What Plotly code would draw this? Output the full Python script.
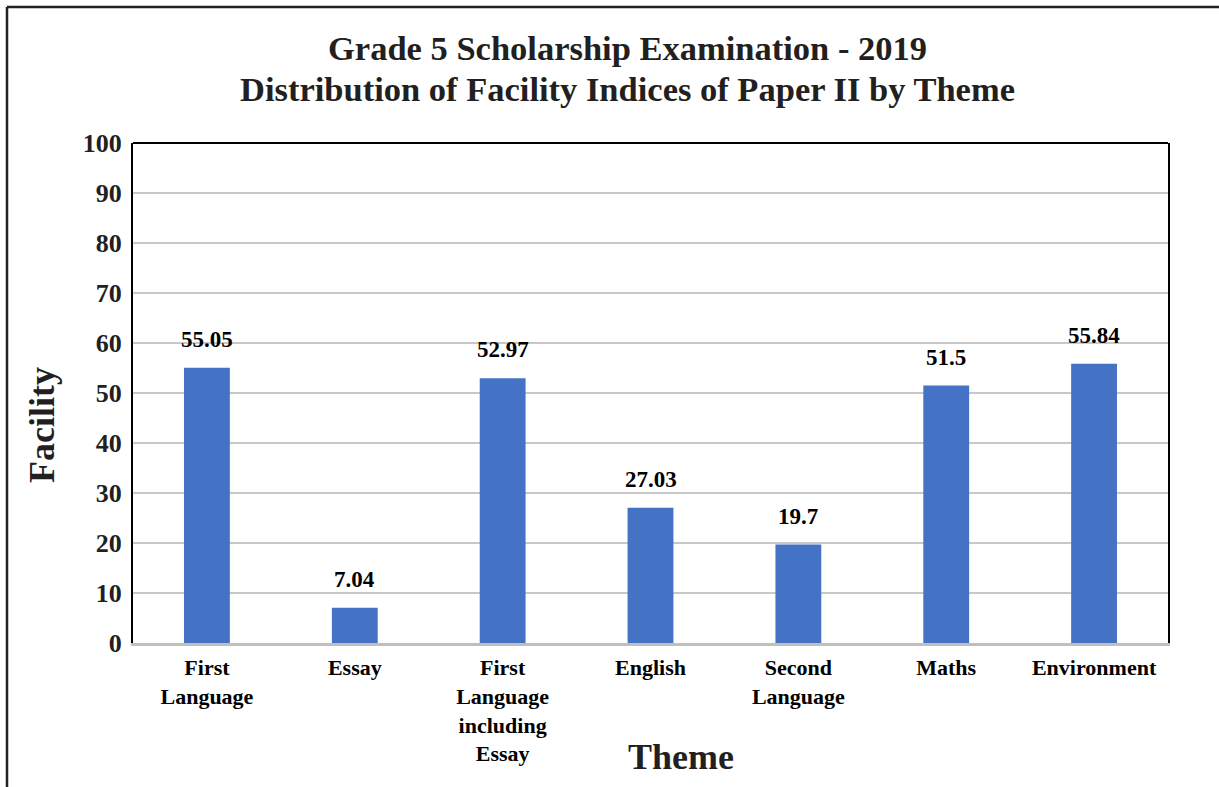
import plotly.graph_objects as go

themes = ["First<br>Language", "Essay", "First<br>Language<br>including<br>Essay",
          "English", "Second<br>Language", "Maths", "Environment"]
facility = [55.05, 7.04, 52.97, 27.03, 19.7, 51.5, 55.84]
value_labels = ["55.05", "7.04", "52.97", "27.03", "19.7", "51.5", "55.84"]
y_ticks = [0, 10, 20, 30, 40, 50, 60, 70, 80, 90, 100]

W, H = 1219, 787
L, R, T, B = 133, 51, 143, 144
pw, ph = W - L - R, H - T - B

def px(x):
    return (x - L) / pw

def py(y):
    return (H - B - y) / ph

SERIF = "Liberation Serif, Times New Roman, serif"
INK = "#231f20"

fig = go.Figure()
fig.add_trace(go.Bar(
    x=list(range(len(themes))), y=facility, width=0.31,
    marker=dict(color="#4472C4", line=dict(width=0)),
    hoverinfo="skip",
))

annotations = []
for i, (v, lab) in enumerate(zip(facility, value_labels)):
    annotations.append(dict(
        x=i, y=v, xref="x", yref="y", text=f"<b>{lab}</b>", showarrow=False,
        yanchor="bottom", yshift=14, font=dict(family=SERIF, size=23, color="black"),
    ))

annotations += [
    dict(x=px(627), y=py(48), xref="paper", yref="paper", showarrow=False,
         text="<b>Grade 5 Scholarship Examination - 2019</b>",
         font=dict(family=SERIF, size=34.5, color=INK), xanchor="center", yanchor="middle"),
    dict(x=px(627), y=py(89), xref="paper", yref="paper", showarrow=False,
         text="<b>Distribution of Facility Indices of Paper II by Theme</b>",
         font=dict(family=SERIF, size=34.5, color=INK), xanchor="center", yanchor="middle"),
    dict(x=px(42), y=py(425), xref="paper", yref="paper", showarrow=False,
         text="<b>Facility</b>", textangle=-90,
         font=dict(family=SERIF, size=36, color=INK), xanchor="center", yanchor="middle"),
    dict(x=px(681), y=py(757), xref="paper", yref="paper", showarrow=False,
         text="<b>Theme</b>",
         font=dict(family=SERIF, size=36, color=INK), xanchor="center", yanchor="middle"),
]

shapes = [
    # outer frame (top and left edges)
    dict(type="line", xref="paper", yref="paper", x0=px(7), x1=px(W + 5), y0=py(7), y1=py(7),
         line=dict(color="#222", width=2.5)),
    dict(type="line", xref="paper", yref="paper", x0=px(7), x1=px(7), y0=py(7), y1=py(H + 5),
         line=dict(color="#222", width=2.5)),
    # top edge of plot area
    dict(type="line", xref="paper", yref="paper", x0=0, x1=1, y0=1, y1=1,
         line=dict(color="black", width=2)),
]

fig.update_layout(
    width=W, height=H,
    margin=dict(l=L, r=R, t=T, b=B),
    paper_bgcolor="white", plot_bgcolor="white",
    showlegend=False,
    bargap=0.69,
    annotations=annotations,
    shapes=shapes,
    xaxis=dict(
        range=[-0.5, len(themes) - 0.5],
        tickmode="array", tickvals=list(range(len(themes))),
        ticktext=[f"<b>{t}</b>" for t in themes],
        tickfont=dict(family=SERIF, size=22, color="black"),
        showgrid=False, zeroline=False,
        showline=True, linecolor="#bfbfbf", linewidth=3,
        ticks="outside", ticklen=3, tickcolor="white",
    ),
    yaxis=dict(
        range=[0, 100],
        tickmode="array", tickvals=y_ticks,
        ticktext=[f"<b>{t}</b>" for t in y_ticks],
        tickfont=dict(family=SERIF, size=26, color=INK),
        showgrid=True, gridcolor="#c8c8c8", gridwidth=2,
        zeroline=False,
        showline=True, linecolor="black", linewidth=2, mirror=True,
        ticks="outside", ticklen=4, tickcolor="white",
    ),
)

fig.write_html("out.html")
